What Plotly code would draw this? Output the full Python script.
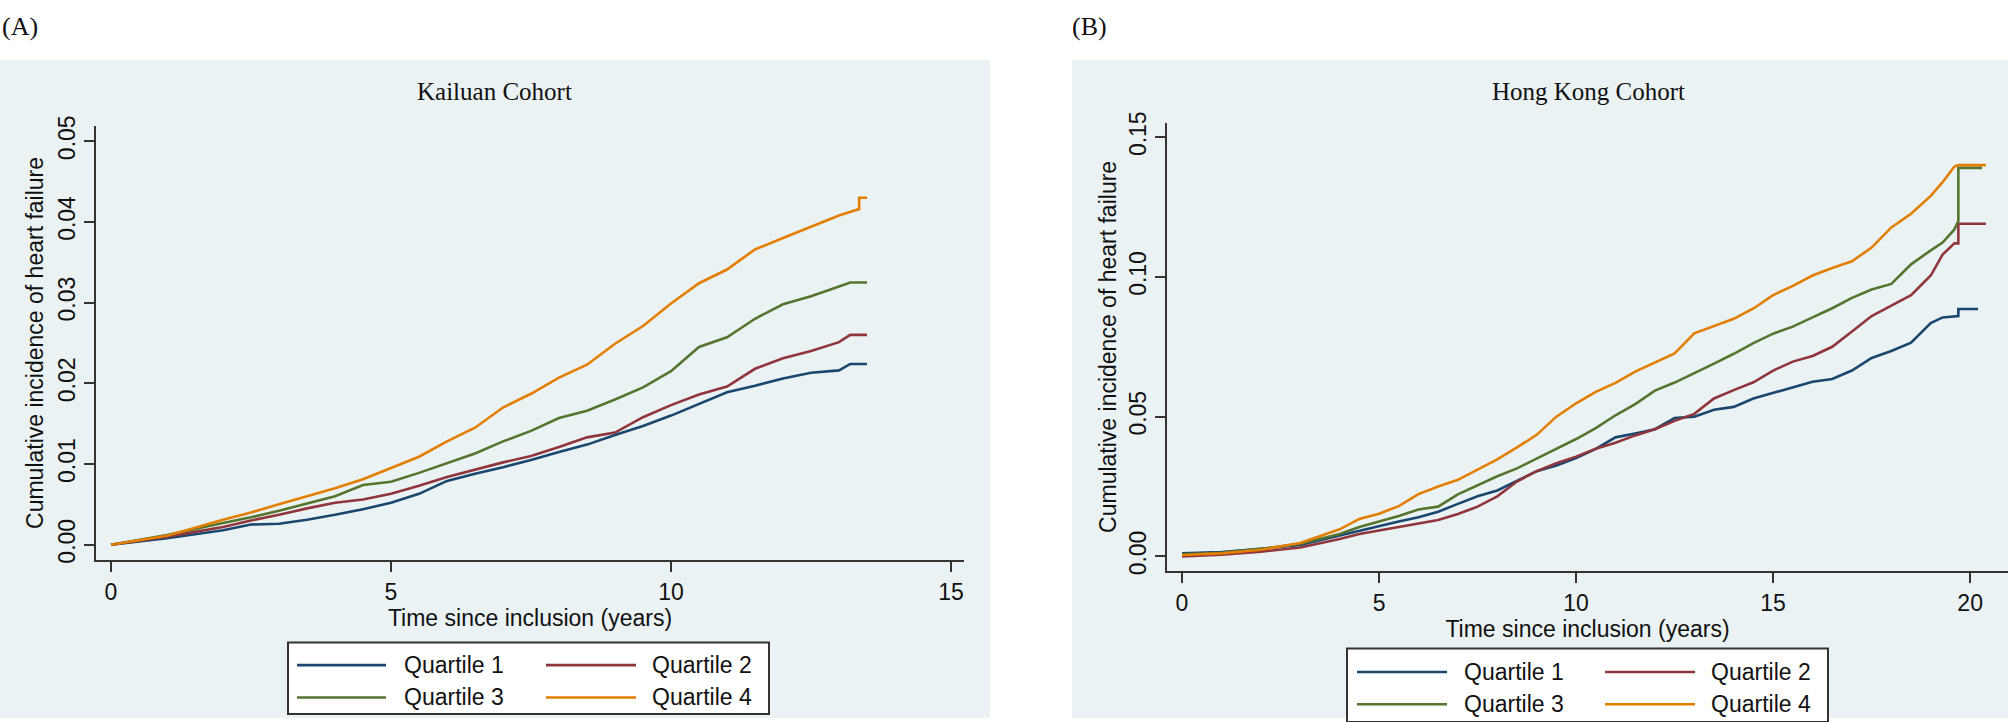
import plotly.graph_objects as go

# ---------------- data ----------------
series_names = ["Quartile 1", "Quartile 2", "Quartile 3", "Quartile 4"]
series_colors = ["#1a476f", "#90353b", "#55752f", "#e37e00"]

# Panel A: Kailuan Cohort
ka_t = [0, 1, 2, 2.5, 3, 3.5, 4, 4.5, 5, 5.5, 6, 6.5, 7, 7.5, 8, 8.5, 9, 9.5,
        10, 10.5, 11, 11.5, 12, 12.5, 13, 13.2, 13.5]
ka_q1 = [0, 0.0008, 0.0018, 0.0025, 0.0026, 0.0031, 0.0037, 0.0044, 0.0052, 0.0063,
         0.0079, 0.0088, 0.0096, 0.0105, 0.0115, 0.0124, 0.0136, 0.0147,
         0.0160, 0.0174, 0.0189, 0.0197, 0.0206, 0.0213, 0.0216, 0.0224, 0.0224]
ka_q2 = [0, 0.0010, 0.0022, 0.0030, 0.0037, 0.0045, 0.0052, 0.0056, 0.0063, 0.0073,
         0.0084, 0.0093, 0.0102, 0.0110, 0.0121, 0.0133, 0.0139, 0.0158,
         0.0173, 0.0186, 0.0196, 0.0218, 0.0231, 0.0240, 0.0251, 0.0260, 0.0260]
ka_q3 = [0, 0.0012, 0.0027, 0.0034, 0.0042, 0.0051, 0.0060, 0.0074, 0.0078, 0.0089,
         0.0101, 0.0113, 0.0128, 0.0141, 0.0157, 0.0166, 0.0180, 0.0195,
         0.0215, 0.0245, 0.0257, 0.0280, 0.0298, 0.0308, 0.0320, 0.0325, 0.0325]
ka_q4_t = [0, 1, 2, 2.5, 3, 3.5, 4, 4.5, 5, 5.5, 6, 6.5, 7, 7.5, 8, 8.5, 9, 9.5,
           10, 10.5, 11, 11.5, 12, 12.5, 13, 13.36, 13.36, 13.5]
ka_q4 = [0, 0.0011, 0.0031, 0.0040, 0.0050, 0.0060, 0.0070, 0.0081, 0.0095, 0.0109,
         0.0128, 0.0145, 0.0170, 0.0187, 0.0207, 0.0223, 0.0249, 0.0271,
         0.0299, 0.0324, 0.0341, 0.0366, 0.0380, 0.0394, 0.0408, 0.0416, 0.0430, 0.0430]

# Panel B: Hong Kong Cohort
hk_t = [0, 1, 2, 3, 4, 4.5, 5, 5.5, 6, 6.5, 7, 7.5, 8, 8.5, 9, 9.5, 10, 10.5,
        11, 11.5, 12, 12.5, 13, 13.5, 14, 14.5, 15, 15.5, 16, 16.5, 17, 17.5,
        18, 18.5, 19, 19.3, 19.6, 19.7, 19.7]
hk_q1 = [0.0011, 0.0016, 0.0027, 0.0041, 0.0075, 0.0092, 0.0107, 0.0125, 0.0140, 0.0160,
         0.0188, 0.0215, 0.0236, 0.0272, 0.0305, 0.0325, 0.0352, 0.0385,
         0.0426, 0.0440, 0.0455, 0.0495, 0.0500, 0.0525, 0.0535, 0.0565, 0.0585, 0.0605,
         0.0625, 0.0635, 0.0665, 0.0710, 0.0735, 0.0765, 0.0835, 0.0855, 0.0860, 0.0860, 0.0885]
hk_q2 = [0.0000, 0.0006, 0.0017, 0.0032, 0.0062, 0.0080, 0.0093, 0.0105, 0.0117, 0.0130,
         0.0152, 0.0178, 0.0215, 0.0268, 0.0305, 0.0333, 0.0357, 0.0385,
         0.0407, 0.0433, 0.0455, 0.0485, 0.0510, 0.0565, 0.0595, 0.0623, 0.0665, 0.0697,
         0.0717, 0.0750, 0.0805, 0.0860, 0.0897, 0.0935, 0.1005, 0.1080, 0.1120, 0.1120, 0.1190]
hk_q3 = [0.0008, 0.0013, 0.0027, 0.0045, 0.0080, 0.0105, 0.0125, 0.0145, 0.0168, 0.0178,
         0.0222, 0.0255, 0.0287, 0.0315, 0.0350, 0.0386, 0.0420, 0.0459,
         0.0505, 0.0545, 0.0593, 0.0622, 0.0655, 0.0690, 0.0725, 0.0763, 0.0797, 0.0822,
         0.0855, 0.0888, 0.0925, 0.0955, 0.0975, 0.1045, 0.1095, 0.1123, 0.1170, 0.1200, 0.1390]
hk_q4 = [0.0005, 0.0011, 0.0024, 0.0048, 0.0097, 0.0134, 0.0153, 0.0180, 0.0223, 0.0250,
         0.0274, 0.0310, 0.0347, 0.0390, 0.0435, 0.0500, 0.0548, 0.0589,
         0.0621, 0.0661, 0.0694, 0.0726, 0.0798, 0.0823, 0.0850, 0.0887, 0.0935, 0.0968,
         0.1005, 0.1032, 0.1056, 0.1105, 0.1177, 0.1226, 0.1290, 0.1339, 0.1395, 0.1400, 0.1400]
hk_end = [20.2, 20.4, 20.3, 20.4]   # follow-up end per quartile (flat tail)

ka_yticks = [0.00, 0.01, 0.02, 0.03, 0.04, 0.05]
hk_yticks = [0.00, 0.05, 0.10, 0.15]
ka_xticks = [0, 5, 10, 15]
hk_xticks = [0, 5, 10, 15, 20]

# ---------------- layout helpers ----------------
W, H = 2008, 722
def px(x):
    return x / W
def py(y):
    return 1 - y / H

BG = "#eaf2f3"
AX = "#333333"
SANS = "Liberation Sans, Arial, sans-serif"
SERIF = "Liberation Serif, Times New Roman, serif"
FS = 23

fig = go.Figure()

ka_series = [(ka_t, ka_q1), (ka_t, ka_q2), (ka_t, ka_q3), (ka_q4_t, ka_q4)]
for (tt, yy), name, col in zip(ka_series, series_names, series_colors):
    fig.add_trace(go.Scatter(x=tt, y=yy, mode="lines", name=name, showlegend=False,
                             line=dict(color=col, width=2.6),
                             xaxis="x", yaxis="y"))
for yy, name, col, te in zip([hk_q1, hk_q2, hk_q3, hk_q4], series_names, series_colors, hk_end):
    fig.add_trace(go.Scatter(x=hk_t + [te], y=yy + [yy[-1]], mode="lines", name=name,
                             showlegend=False,
                             line=dict(color=col, width=2.6),
                             xaxis="x2", yaxis="y2"))

def xaxis_cfg(domain, rng, ticks, standoff):
    return dict(domain=domain, range=rng, tickvals=ticks, ticktext=[str(t) for t in ticks],
                showgrid=False, zeroline=False, showline=True, linecolor=AX, linewidth=2,
                ticks="outside", ticklen=10, tickwidth=2, tickcolor=AX,
                tickfont=dict(family=SANS, size=FS, color="#111"),
                title=dict(text="Time since inclusion (years)", standoff=standoff,
                           font=dict(family=SANS, size=FS, color="#111")))

def yaxis_cfg(domain, rng, ticks, standoff):
    return dict(domain=domain, range=rng, tickvals=ticks, ticktext=[f"{t:.2f}" for t in ticks],
                showgrid=True, gridcolor=BG, gridwidth=2, zeroline=False,
                showline=True, linecolor=AX, linewidth=2,
                ticks="outside", ticklen=10, tickwidth=2, tickcolor=AX, tickangle=-90,
                tickfont=dict(family=SANS, size=FS, color="#111"),
                title=dict(text="Cumulative incidence of heart failure", standoff=standoff,
                           font=dict(family=SANS, size=FS, color="#111")))

fig.update_layout(
    width=W, height=H, margin=dict(l=0, r=0, t=0, b=0),
    paper_bgcolor="white", plot_bgcolor="white", showlegend=False,
    xaxis=dict(xaxis_cfg([px(96), px(964)], [-0.268, 15.232], ka_xticks, 3), anchor="y"),
    yaxis=dict(yaxis_cfg([py(561), py(117)], [-0.00194, 0.05194], ka_yticks, 4), anchor="x"),
    xaxis2=dict(xaxis_cfg([px(1167), 1.0], [-0.381, 20.96], hk_xticks, 1), anchor="y2"),
    yaxis2=dict(yaxis_cfg([py(572), py(114)], [-0.00526, 0.1552], hk_yticks, 2), anchor="x2"),
)

shapes = [
    dict(type="rect", xref="paper", yref="paper", x0=0, x1=px(990), y0=0, y1=py(50),
         fillcolor=BG, line=dict(width=0), layer="below"),
    dict(type="rect", xref="paper", yref="paper", x0=px(1072), x1=1, y0=0, y1=py(50),
         fillcolor=BG, line=dict(width=0), layer="below"),
]
annotations = [
    dict(text="(A)", x=px(0), y=py(16), xref="paper", yref="paper", xanchor="left",
         yanchor="middle", showarrow=False, font=dict(family=SERIF, size=26, color="#111")),
    dict(text="(B)", x=px(1070), y=py(16), xref="paper", yref="paper", xanchor="left",
         yanchor="middle", showarrow=False, font=dict(family=SERIF, size=26, color="#111")),
    dict(text="Kailuan Cohort", x=px(494), y=py(82), xref="paper", yref="paper",
         xanchor="center", yanchor="middle", showarrow=False,
         font=dict(family=SERIF, size=25, color="#111")),
    dict(text="Hong Kong Cohort", x=px(1588), y=py(82), xref="paper", yref="paper",
         xanchor="center", yanchor="middle", showarrow=False,
         font=dict(family=SERIF, size=25, color="#111")),
]

def add_legend(x0, x1, y0, y1, rows_y, col_line_x, col_text_x):
    shapes.append(dict(type="rect", xref="paper", yref="paper", x0=px(x0), x1=px(x1),
                       y0=py(y1), y1=py(y0), fillcolor="white",
                       line=dict(color=AX, width=2)))
    for i, (name, col) in enumerate(zip(series_names, series_colors)):
        r, c = divmod(i, 2)
        lx0, lx1 = col_line_x[c]
        shapes.append(dict(type="line", xref="paper", yref="paper", x0=px(lx0), x1=px(lx1),
                           y0=py(rows_y[r]), y1=py(rows_y[r]), line=dict(color=col, width=2.6)))
        annotations.append(dict(text=name, x=px(col_text_x[c]), y=py(rows_y[r]),
                                xref="paper", yref="paper", xanchor="left", yanchor="middle",
                                showarrow=False, font=dict(family=SANS, size=FS, color="#111")))

add_legend(288, 769, 645, 718, [668, 701], [(297, 386), (546, 636)], [402, 650])
add_legend(1347, 1828, 651, 726, [675, 708], [(1357, 1447), (1605, 1695)], [1462, 1709])

fig.update_layout(shapes=shapes, annotations=annotations)
fig.write_html("out.html", config={"displayModeBar": False},
               post_script="document.body.style.margin='0';document.body.style.padding='0';"
                           "document.body.style.overflow='hidden';")
